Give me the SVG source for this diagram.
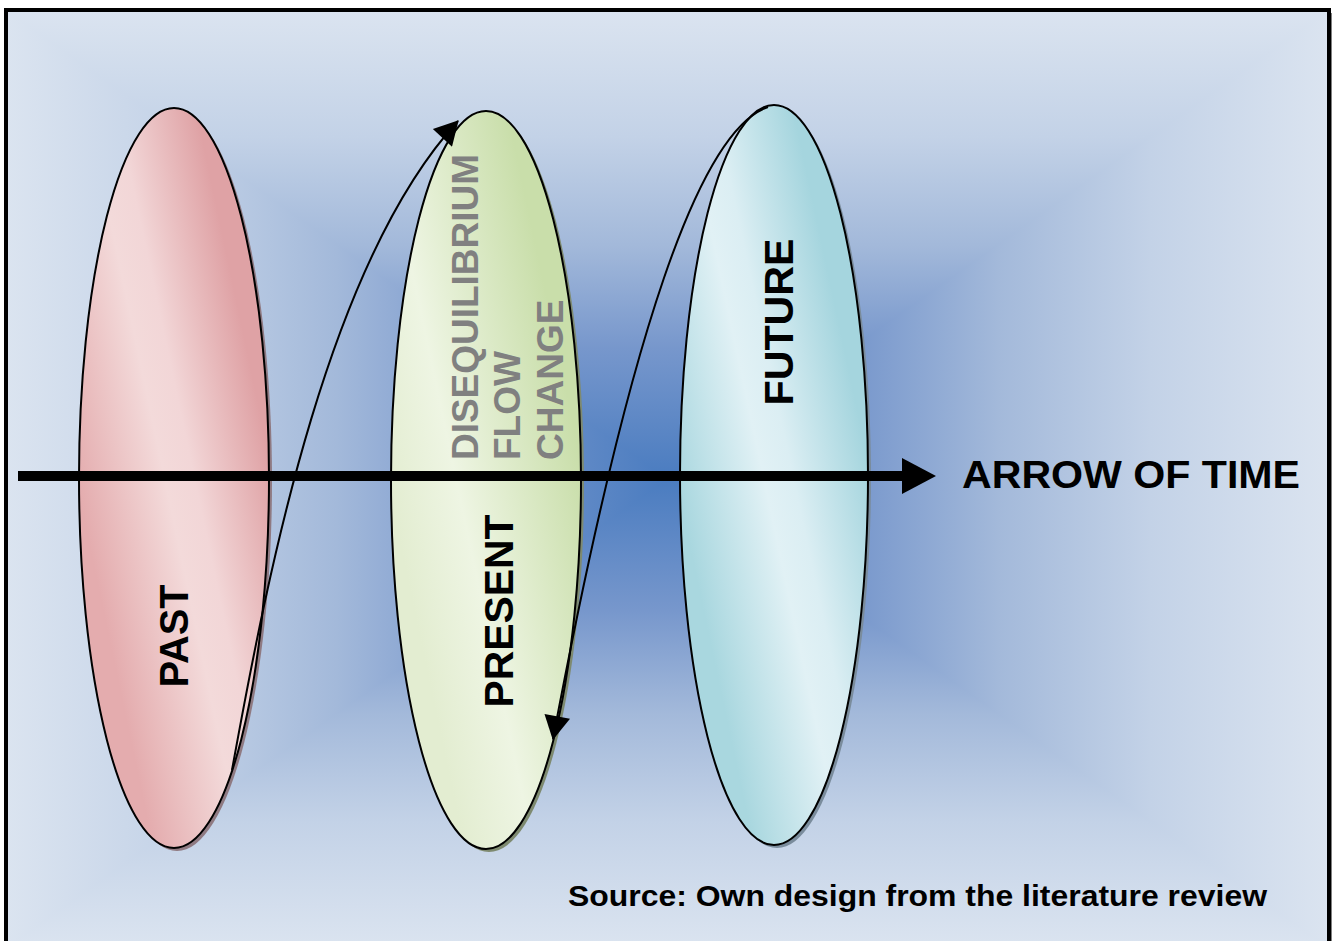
<svg xmlns="http://www.w3.org/2000/svg" width="1336" height="941" viewBox="0 0 1336 941">
  <style>
    .lbl { font-family: "Liberation Sans", Arial, sans-serif; font-weight: bold; }
    .big { font-size: 40px; fill: #000; }
    .gray { font-size: 37px; fill: #808080; }
    .oval { stroke: #000; stroke-width: 2; }
    .conn { fill: none; stroke: #000; stroke-width: 2; }
  </style>
  <defs>
    <linearGradient id="bgH" gradientUnits="userSpaceOnUse" x1="6" y1="0" x2="1329" y2="0">
      <stop offset="0" stop-color="#dbe4f0"/>
      <stop offset="0.135" stop-color="#c3d2e7"/>
      <stop offset="0.25" stop-color="#a3b9da"/>
      <stop offset="0.36" stop-color="#7797cc"/>
      <stop offset="0.5" stop-color="#4a7cc0"/>
      <stop offset="0.64" stop-color="#7797cc"/>
      <stop offset="0.75" stop-color="#a3b9da"/>
      <stop offset="0.865" stop-color="#c3d2e7"/>
      <stop offset="1" stop-color="#dbe4f0"/>
    </linearGradient>
    <linearGradient id="bgV" gradientUnits="userSpaceOnUse" x1="0" y1="10" x2="0" y2="948">
      <stop offset="0" stop-color="#dbe4f0"/>
      <stop offset="0.135" stop-color="#c3d2e7"/>
      <stop offset="0.25" stop-color="#a3b9da"/>
      <stop offset="0.36" stop-color="#7797cc"/>
      <stop offset="0.5" stop-color="#4a7cc0"/>
      <stop offset="0.64" stop-color="#7797cc"/>
      <stop offset="0.75" stop-color="#a3b9da"/>
      <stop offset="0.865" stop-color="#c3d2e7"/>
      <stop offset="1" stop-color="#dbe4f0"/>
    </linearGradient>
    <clipPath id="vClip">
      <polygon points="6,10 1329,10 667,479"/>
      <polygon points="6,948 1329,948 667,479"/>
    </clipPath>
    <linearGradient id="gPast" gradientUnits="userSpaceOnUse" x1="80" y1="500" x2="270" y2="460">
      <stop offset="0" stop-color="#e4acae"/>
      <stop offset="0.45" stop-color="#f3dada"/>
      <stop offset="0.6" stop-color="#f2d6d7"/>
      <stop offset="1" stop-color="#dfa2a5"/>
    </linearGradient>
    <linearGradient id="gPresent" gradientUnits="userSpaceOnUse" x1="391" y1="500" x2="581" y2="460">
      <stop offset="0" stop-color="#e3edd1"/>
      <stop offset="0.35" stop-color="#eef5e3"/>
      <stop offset="1" stop-color="#c9deaa"/>
    </linearGradient>
    <linearGradient id="gFuture" gradientUnits="userSpaceOnUse" x1="680" y1="500" x2="868" y2="460">
      <stop offset="0" stop-color="#a9d7df"/>
      <stop offset="0.45" stop-color="#e1f1f5"/>
      <stop offset="0.6" stop-color="#dbeef3"/>
      <stop offset="1" stop-color="#a5d5de"/>
    </linearGradient>
    <marker id="ah" markerUnits="userSpaceOnUse" markerWidth="26" markerHeight="26" viewBox="0 0 24 26" refX="23" refY="13" orient="auto">
      <path d="M0,0 L24,13 L0,26 z" fill="#000"/>
    </marker>
  </defs>

  <!-- background frame -->
  <rect x="0" y="0" width="1336" height="941" fill="#ffffff"/>
  <rect x="9" y="13" width="1323" height="940" fill="#808080"/>
  <rect x="6" y="10" width="1323" height="940" fill="url(#bgH)"/>
  <rect x="6" y="10" width="1323" height="940" fill="url(#bgV)" clip-path="url(#vClip)"/>
  <rect x="6" y="10" width="1323" height="940" fill="none" stroke="#000" stroke-width="4"/>

  <g id="past">
    <ellipse cx="177" cy="481" rx="95" ry="370" fill="#8f7a82"/>
    <ellipse class="oval" cx="174" cy="478" rx="95" ry="370" fill="url(#gPast)"/>
    <text class="lbl big" transform="translate(188,636) rotate(-90)" text-anchor="middle" textLength="103" lengthAdjust="spacingAndGlyphs">PAST</text>
  </g>

  <g id="present">
    <ellipse cx="489" cy="483" rx="95" ry="369" fill="#7e8a70"/>
    <ellipse class="oval" cx="486" cy="480" rx="95" ry="369" fill="url(#gPresent)"/>
    <text class="lbl big" transform="translate(513,611) rotate(-90)" text-anchor="middle" textLength="193" lengthAdjust="spacingAndGlyphs">PRESENT</text>
    <text class="lbl gray" transform="translate(478,460) rotate(-90)" textLength="306" lengthAdjust="spacingAndGlyphs">DISEQUILIBRIUM</text>
    <text class="lbl gray" transform="translate(520,460) rotate(-90)">FLOW</text>
    <text class="lbl gray" transform="translate(563,460) rotate(-90)">CHANGE</text>
  </g>

  <g id="future">
    <ellipse cx="777" cy="478" rx="94" ry="370" fill="#7a8c9c"/>
    <ellipse class="oval" cx="774" cy="475" rx="94" ry="370" fill="url(#gFuture)"/>
    <text class="lbl big" transform="translate(793,322) rotate(-90)" text-anchor="middle" textLength="167" lengthAdjust="spacingAndGlyphs">FUTURE</text>
  </g>

  <g id="connectors">
    <line x1="18" y1="476" x2="905" y2="476" stroke="#000" stroke-width="10"/>
    <polygon points="902,458 936,476 902,494" fill="#000"/>
    <path class="conn" d="M232,770 C270,560 330,260 458,121" marker-end="url(#ah)"/>
    <path class="conn" d="M768,107 C700,130 630,330 553,739" marker-end="url(#ah)"/>
  </g>

  <g id="arrow-label">
    <text class="lbl" x="962" y="488" font-size="38" textLength="338" lengthAdjust="spacingAndGlyphs">ARROW OF TIME</text>
  </g>

  <g id="source">
    <text class="lbl" x="568" y="906" font-size="30" textLength="699" lengthAdjust="spacingAndGlyphs">Source: Own design from the literature review</text>
  </g>
</svg>
